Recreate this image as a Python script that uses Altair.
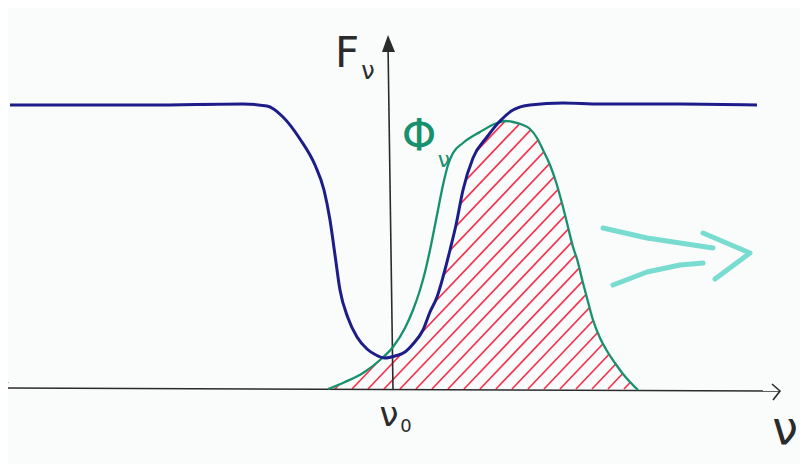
import altair as alt
import pandas as pd

# ---- data (x in px from left, y = height above frame bottom) ----
# emergent flux F_nu (blue)
blue_x = [10, 150, 243, 267, 283, 300, 315, 324, 330, 335, 340, 348, 357, 367, 376, 385, 395, 405, 413, 423, 430,
          437, 443, 450, 456, 463, 473, 487, 500, 513, 530, 563, 600, 680, 757]
blue_y = [367, 367, 368, 366, 355, 333, 307, 282, 252, 217, 182, 154, 135, 123, 117, 114, 116, 120, 128, 142, 160,
          175, 195, 222, 247, 282, 314, 335, 351, 362, 367, 369, 368, 368, 367]

# profile phi_nu (green)
teal_x = [328, 345, 363, 380, 393, 405, 413, 420, 425, 430, 437, 443, 448, 453, 463, 480, 497, 505, 513, 523,
          530, 537, 543, 550, 556, 563, 568, 573, 577, 583, 587, 593, 600, 607, 615, 623, 630, 638]
teal_y = [83, 90, 99, 112, 125, 144, 162, 182, 200, 222, 257, 287, 307, 319, 329, 340, 349, 351, 350, 347,
          343, 334, 322, 307, 290, 265, 245, 225, 213, 189, 174, 152, 134, 121, 109, 98, 90, 82]

# hatch strokes: where each stroke (extended) meets the frequency axis
hatch_c = [250, 267, 284, 301, 318, 335, 352, 368, 384, 400, 416, 432, 448, 464, 480, 496, 512, 528,
           544, 560, 576, 592, 608, 624]

# axes (hand-drawn lines)
axis_g = ["h", "h", "v", "v", "l", "l", "l", "r", "r", "r"]
axis_x = [3, 780, 393, 388, 8, 2, 7, 772, 780, 773]
axis_y = [84, 81, 82, 428, 90, 84, 74, 88, 81, 72]
tip_x = [382, 388, 395]
tip_y = [420, 437, 420]

# cyan arrow
arrow_g = ["a", "a", "a", "a", "b", "b", "b", "b", "c", "c", "c"]
arrow_x = [603, 647, 680, 713, 613, 647, 680, 703, 703, 750, 715]
arrow_y = [244, 234, 229, 224, 187, 200, 207, 209, 239, 219, 193]

labels = ["F", "ν", "Φ", "ν", "ν", "0", "ν"]

# ---- styles ----
BG = "#fafbfb"
BLUE = "#1d1d8a"
TEAL = "#16906d"
RED = "#f5334f"
AX = "#2b2b2b"
CYAN = "#62d6c9"
FONT = "DejaVu Sans"

X0, X1 = 8, 800      # visible frame in sketch pixels
Y0, Y1 = 8, 464
xs = alt.Scale(domain=[X0, X1], nice=False, zero=False)
ys = alt.Scale(domain=[Y0, Y1], nice=False, zero=False)


def X(f):
    return alt.X(f, type="quantitative", scale=xs, axis=None)


def Y(f):
    return alt.Y(f, type="quantitative", scale=ys, axis=None)


SLOPE = 1.05
LEN = 300

blue_df = pd.DataFrame({"x": blue_x, "y": blue_y})
teal_df = pd.DataFrame({"x": teal_x, "y": teal_y})
blue_mask = pd.DataFrame({"x": [X0] + blue_x + [X1], "y": [blue_y[0]] + blue_y + [blue_y[-1]]})
teal_mask = pd.DataFrame({"x": [X0] + teal_x + [X1], "y": [teal_y[0]] + teal_y + [teal_y[-1]]})
hatch_df = pd.DataFrame({"x": hatch_c, "y": [83] * len(hatch_c),
                         "x2": [c + LEN for c in hatch_c], "y2": [83 + LEN * SLOPE] * len(hatch_c)})
axis_df = pd.DataFrame({"g": axis_g, "x": axis_x, "y": axis_y, "o": list(range(len(axis_x)))})
tip_df = pd.DataFrame({"x": tip_x, "y": tip_y})
arrow_df = pd.DataFrame({"g": arrow_g, "x": arrow_x, "y": arrow_y, "o": list(range(len(arrow_x)))})

hatch = alt.Chart(hatch_df).mark_rule(color=RED, strokeWidth=1.7, clip=True).encode(
    x=X("x"), y=Y("y"), x2="x2", y2="y2")

# background-coloured masks above each curve: hatching survives only under both curves
mask_b = alt.Chart(blue_mask).mark_area(color=BG, opacity=1, interpolate="monotone", clip=True).encode(
    x=X("x"), y=Y("y"), y2=alt.datum(Y1))
mask_t = alt.Chart(teal_mask).mark_area(color=BG, opacity=1, interpolate="monotone", clip=True).encode(
    x=X("x"), y=Y("y"), y2=alt.datum(Y1))

axes = alt.Chart(axis_df).mark_line(color=AX, strokeWidth=1.6, clip=True).encode(
    x=X("x"), y=Y("y"), detail="g:N", order="o:Q")
tip = alt.Chart(tip_df).mark_area(color=AX, opacity=1, clip=True).encode(
    x=X("x"), y=Y("y"), y2=alt.datum(420))

teal = alt.Chart(teal_df).mark_line(color=TEAL, strokeWidth=2.3, interpolate="monotone", clip=True).encode(
    x=X("x"), y=Y("y"))
blue = alt.Chart(blue_df).mark_line(color=BLUE, strokeWidth=3, interpolate="monotone", clip=True).encode(
    x=X("x"), y=Y("y"))

arrow = alt.Chart(arrow_df).mark_line(color=CYAN, strokeWidth=5, strokeCap="round", strokeJoin="round",
                                      opacity=0.85, clip=True).encode(
    x=X("x"), y=Y("y"), detail="g:N", order="o:Q")


def label(i, x, y, size, color):
    return alt.Chart(pd.DataFrame({"t": [labels[i]]})).mark_text(
        font=FONT, fontSize=size, color=color, align="center", baseline="middle").encode(
        x=alt.datum(x), y=alt.datum(y), text="t:N")


texts = [
    label(0, 347, 418, 42, AX),
    label(1, 368, 400, 24, AX),
    label(2, 419, 334, 44, TEAL),
    label(3, 444, 312, 22, TEAL),
    label(4, 389, 56, 34, AX),
    label(5, 406, 45, 18, AX),
    label(6, 785, 42, 46, AX),
]

chart = alt.layer(hatch, mask_b, mask_t, axes, tip, teal, blue, arrow, *texts).properties(
    width=X1 - X0, height=Y1 - Y0,
    autosize=alt.AutoSizeParams(type="fit", contains="padding"),
    padding=0,
    background=BG,
).configure_view(stroke=None)

chart.save("out.html", embed_options={"renderer": "svg", "actions": False})
